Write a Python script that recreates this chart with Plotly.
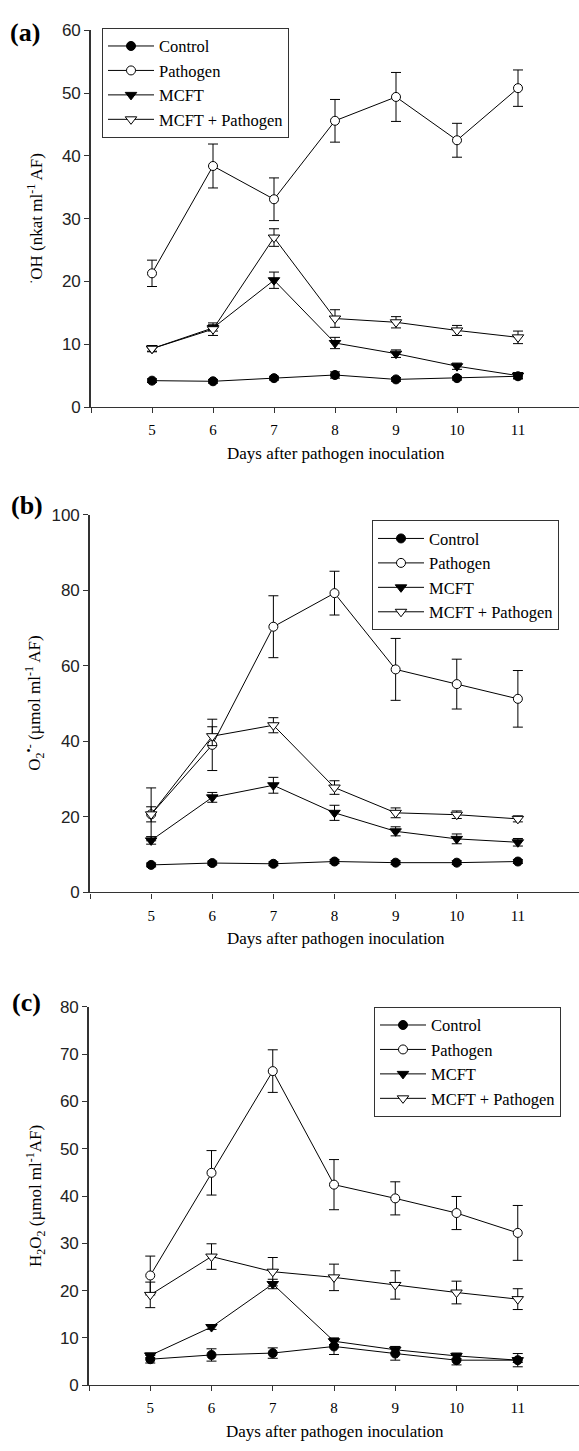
import plotly.graph_objects as go

days = [5, 6, 7, 8, 9, 10, 11]
x_tick_labels = ["5", "6", "7", "8", "9", "10", "11"]
series_names = ["Control", "Pathogen", "MCFT", "MCFT + Pathogen"]

# (a) hydroxyl radical
oh_control = [4.2, 4.1, 4.6, 5.1, 4.4, 4.6, 4.9]
oh_control_err = [0.3, 0.3, 0.3, 0.5, 0.3, 0.3, 0.4]
oh_pathogen = [21.3, 38.4, 33.1, 45.6, 49.4, 42.5, 50.8]
oh_pathogen_err = [2.1, 3.5, 3.4, 3.4, 3.9, 2.7, 2.9]
oh_mcft = [9.3, 12.6, 20.2, 10.2, 8.5, 6.5, 5.0]
oh_mcft_err = [0.4, 0.5, 1.3, 0.9, 0.6, 0.5, 0.5]
oh_mcftp = [9.3, 12.4, 27.0, 14.1, 13.5, 12.2, 11.1]
oh_mcftp_err = [0.5, 1.0, 1.4, 1.4, 0.9, 0.8, 1.0]

# (b) superoxide
o2_control = [7.3, 7.8, 7.6, 8.2, 7.9, 7.9, 8.2]
o2_control_err = [0.5, 0.5, 0.5, 0.5, 0.5, 0.5, 0.5]
o2_pathogen = [20.7, 39.1, 70.4, 79.3, 59.1, 55.2, 51.3]
o2_pathogen_err = [7.0, 6.8, 8.2, 5.8, 8.2, 6.6, 7.5]
o2_mcft = [13.8, 25.2, 28.4, 21.1, 16.2, 14.2, 13.3]
o2_mcft_err = [1.0, 1.3, 2.1, 2.0, 1.2, 1.3, 1.0]
o2_mcftp = [20.7, 41.4, 44.3, 27.8, 21.1, 20.6, 19.5]
o2_mcftp_err = [2.0, 2.5, 2.0, 1.8, 1.3, 1.0, 0.8]

# (c) hydrogen peroxide
h2o2_control = [5.5, 6.4, 6.8, 8.2, 6.7, 5.3, 5.3]
h2o2_control_err = [0.8, 1.3, 1.1, 1.7, 1.4, 1.0, 1.4]
h2o2_pathogen = [23.2, 44.9, 66.4, 42.4, 39.5, 36.4, 32.2]
h2o2_pathogen_err = [4.1, 4.7, 4.5, 5.3, 3.5, 3.5, 5.8]
h2o2_mcft = [6.3, 12.3, 21.4, 9.3, 7.5, 6.2, 5.3]
h2o2_mcft_err = [0.5, 0.5, 1.0, 0.7, 0.7, 0.6, 0.5]
h2o2_mcftp = [19.1, 27.2, 24.0, 22.8, 21.2, 19.6, 18.2]
h2o2_mcftp_err = [2.7, 2.7, 3.0, 2.8, 3.0, 2.4, 2.2]

W, H = 579, 1451
SERIF = "Liberation Serif"
SANS = "Liberation Sans"

styles = [
    dict(symbol="circle", size=9, color="black"),
    dict(symbol="circle", size=9, color="white"),
    dict(symbol="triangle-down", size=10, color="black"),
    dict(symbol="triangle-down", size=10, color="white"),
]

panels = [
    dict(data=[(oh_control, oh_control_err), (oh_pathogen, oh_pathogen_err),
               (oh_mcft, oh_mcft_err), (oh_mcftp, oh_mcftp_err)],
         ypx=(403.3, 21.7), xl=91, yr=[0, 60], dt=10,
         ytitle="<sup>·</sup>OH (nkat ml<sup>-1</sup> AF)", label="(a)", lab=(25, 24),
         legend=(102, 19)),
    dict(data=[(o2_control, o2_control_err), (o2_pathogen, o2_pathogen_err),
               (o2_mcft, o2_mcft_err), (o2_mcftp, o2_mcftp_err)],
         ypx=(895.2, 512.7), xl=90, yr=[0, 100], dt=20,
         ytitle="O<sub>2</sub><sup>•-</sup> (µmol ml<sup>-1</sup> AF)", label="(b)", lab=(27, 503),
         legend=(372, 518)),
    dict(data=[(h2o2_control, h2o2_control_err), (h2o2_pathogen, h2o2_pathogen_err),
               (h2o2_mcft, h2o2_mcft_err), (h2o2_mcftp, h2o2_mcftp_err)],
         ypx=(1394.5, 1011), xl=89, yr=[0, 80], dt=10,
         ytitle="H<sub>2</sub>O<sub>2</sub> (µmol ml<sup>-1</sup>AF)", label="(c)", lab=(26, 1007),
         legend=(374, 1011)),
]

fig = go.Figure()
annotations = []
layout = {}
for i, p in enumerate(panels):
    sfx = "" if i == 0 else str(i + 1)
    lg = "legend" if i == 0 else "legend" + str(i + 1)
    for name, (vals, errs), st in zip(series_names, p["data"], styles):
        fig.add_trace(go.Scatter(
            x=days, y=vals, name=name, mode="lines+markers",
            xaxis="x" + sfx, yaxis="y" + sfx, legend=lg,
            line=dict(color="black", width=1),
            marker=dict(symbol=st["symbol"], size=st["size"], color=st["color"],
                        line=dict(color="black", width=1)),
            error_y=dict(type="data", array=errs, visible=True, color="black",
                         thickness=1, width=5),
        ))
    y0, y1 = p["ypx"]
    layout["xaxis" + sfx] = dict(
        domain=[p["xl"] / W, 1.0], range=[4, 12], anchor="y" + sfx,
        tickmode="array", tickvals=days, ticktext=x_tick_labels,
        showline=True, linecolor="#333", linewidth=1.3, ticks="outside", ticklen=5,
        tickcolor="#333", tickwidth=1.3, showgrid=False, zeroline=False,
        minor=dict(ticks="outside", dtick=1, tick0=0, ticklen=5, tickcolor="#333",
                   tickwidth=1.3, showgrid=False),
        tickfont=dict(family=SERIF, size=15, color="black"), ticklabelstandoff=4,
    )
    layout["yaxis" + sfx] = dict(
        domain=[1 - y0 / H, 1 - y1 / H], range=p["yr"], anchor="x" + sfx,
        dtick=p["dt"], tick0=0,
        showline=True, linecolor="#333", linewidth=1.6, ticks="outside", ticklen=5,
        tickcolor="#333", tickwidth=1.3, showgrid=False, zeroline=False,
        tickfont=dict(family=SANS, size=17, color="#222"),
    )
    lx, ly = p["legend"]
    layout[lg] = dict(
        x=lx / W, y=1 - ly / H, xanchor="left", yanchor="top",
        bordercolor="#333", borderwidth=1, bgcolor="white",
        font=dict(family=SERIF, size=16.5, color="black"),
        itemwidth=46, tracegroupgap=0,
    )
    annotations.append(dict(
        text=p["ytitle"], xref="paper", yref="paper", x=35 / W, y=1 - (y0 + y1) / 2 / H,
        textangle=-90, showarrow=False, font=dict(family=SERIF, size=17, color="black"),
        xanchor="center", yanchor="middle"))
    annotations.append(dict(
        text="Days after pathogen inoculation", xref="paper", yref="paper",
        x=(p["xl"] + 581) / 2 / W, y=1 - (y0 + 47) / H, showarrow=False,
        font=dict(family=SERIF, size=17, color="black"), xanchor="center", yanchor="middle"))
    annotations.append(dict(
        text="<b>" + p["label"] + "</b>", xref="paper", yref="paper",
        x=p["lab"][0] / W, y=1 - p["lab"][1] / H, showarrow=False,
        font=dict(family=SERIF, size=26, color="black"), xanchor="center", yanchor="middle"))

fig.update_layout(
    width=W, height=H, margin=dict(l=0, r=0, t=0, b=0),
    paper_bgcolor="white", plot_bgcolor="white",
    annotations=annotations, **layout,
)
fig.write_html("out.html", config={"displayModeBar": False},
               post_script="document.body.style.margin='0px';")
